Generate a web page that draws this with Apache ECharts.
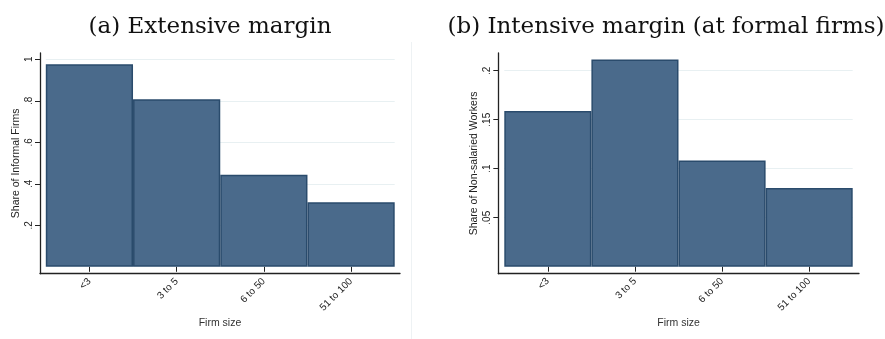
<!DOCTYPE html>
<html>
<head>
<meta charset="utf-8">
<script src="https://cdn.jsdelivr.net/npm/echarts@6/dist/echarts.min.js"></script>
<style>
  html, body { margin: 0; padding: 0; background: #ffffff; }
  #chart { width: 885px; height: 339px; }
</style>
</head>
<body>
<div id="chart"></div>
<script>
// ---- data ----
var categories = ['<3', '3 to 5', '6 to 50', '51 to 100'];
var informalShare = [0.976, 0.807, 0.444, 0.311];
var nonSalariedShare = [0.159, 0.2115, 0.1085, 0.0803];
var yTicksA = [0.2, 0.4, 0.6, 0.8, 1];
var yTicksB = [0.05, 0.1, 0.15, 0.2];
var titleA = '(a) Extensive margin';
var titleB = '(b) Intensive margin (at formal firms)';
var yNameA = 'Share of Informal Firms';
var yNameB = 'Share of Non-salaried Workers';
var xName = 'Firm size';

function fmt(v) {
  var s = String(Number(Number(v).toFixed(3)));
  return s.replace(/^0\./, '.');
}

var sans = 'Liberation Sans';
var axisColor = '#222';
var barFill = '#4a6a8b';
var barBorder = '#2a4b6c';
var gridColor = '#e8f0f2';

var chart = echarts.init(document.getElementById('chart'), null, { renderer: 'canvas' });

function frameAxes(gridIndex, yName, yNameGap) {
  return {
    x: {
      type: 'value', gridIndex: gridIndex, min: 0, max: 1,
      axisLine: { show: true, lineStyle: { color: axisColor, width: 1.3 } },
      axisTick: { show: false }, axisLabel: { show: false }, splitLine: { show: false },
      name: xName, nameLocation: 'middle', nameGap: 44,
      nameTextStyle: { fontFamily: sans, fontSize: 10.5, color: '#333' }
    },
    y: {
      type: 'value', gridIndex: gridIndex, min: 0, max: 1,
      axisLine: { show: true, lineStyle: { color: axisColor, width: 1.3 } },
      axisTick: { show: false }, axisLabel: { show: false }, splitLine: { show: false },
      name: yName, nameLocation: 'middle', nameGap: yNameGap,
      nameTextStyle: { fontFamily: sans, fontSize: 10.5, color: '#222' }
    }
  };
}

function barXAxis(gridIndex) {
  return {
    type: 'category', gridIndex: gridIndex, data: categories, offset: 7,
    axisLine: { show: false },
    axisTick: { show: true, alignWithLabel: true, length: 5, lineStyle: { color: axisColor, width: 1 } },
    axisLabel: { rotate: 45, margin: 6, fontFamily: sans, fontSize: 10, color: '#222', interval: 0 },
    splitLine: { show: false }
  };
}

function barYAxis(gridIndex, max, interval, ticks, offset) {
  return {
    type: 'value', gridIndex: gridIndex, min: 0, max: max, interval: interval, offset: offset,
    axisLine: { show: false },
    axisTick: { show: true, length: 5, customValues: ticks, lineStyle: { color: axisColor, width: 1 } },
    axisLabel: { rotate: 90, margin: 6, customValues: ticks, formatter: fmt,
                 fontFamily: sans, fontSize: 10, color: '#222' },
    splitLine: { show: true, lineStyle: { color: gridColor, width: 1 } }
  };
}

var fA = frameAxes(0, yNameA, 18);
var fB = frameAxes(2, yNameB, 19);

var titleFont = { fontFamily: 'DejaVu Serif', fontSize: 23, fontWeight: 'normal', color: '#111' };

var option = {
  animation: false,
  backgroundColor: '#ffffff',
  title: [
    { text: titleA, left: 205, top: 11, textAlign: 'center', textStyle: titleFont },
    { text: titleB, left: 661, top: 11, textAlign: 'center', textStyle: titleFont }
  ],
  grid: [
    { left: 40, top: 53, width: 360, height: 220.7 },        // frame A
    { left: 45.8, top: 53, width: 348.9, height: 213.8 },    // bars A
    { left: 498.3, top: 53, width: 360.7, height: 220.7 },   // frame B
    { left: 504.3, top: 53, width: 348.4, height: 213.7 }    // bars B
  ],
  xAxis: [
    fA.x,
    barXAxis(1),
    fB.x,
    barXAxis(3)
  ],
  yAxis: [
    fA.y,
    barYAxis(1, 1.0304, 0.2, yTicksA, 5.8),
    fB.y,
    barYAxis(3, 0.2181, 0.05, yTicksB, 6)
  ],
  series: [
    { type: 'bar', xAxisIndex: 1, yAxisIndex: 1, data: informalShare,
      barWidth: '100%', barCategoryGap: 0,
      itemStyle: { color: barFill, borderColor: barBorder, borderWidth: 1.5 } },
    { type: 'bar', xAxisIndex: 3, yAxisIndex: 3, data: nonSalariedShare,
      barWidth: '100%', barCategoryGap: 0,
      itemStyle: { color: barFill, borderColor: barBorder, borderWidth: 1.5 } }
  ],
  graphic: [
    { type: 'line', shape: { x1: 411.5, y1: 42, x2: 411.5, y2: 339 },
      style: { stroke: '#eef2f4', lineWidth: 1 }, silent: true }
  ]
};

chart.setOption(option);
</script>
</body>
</html>
